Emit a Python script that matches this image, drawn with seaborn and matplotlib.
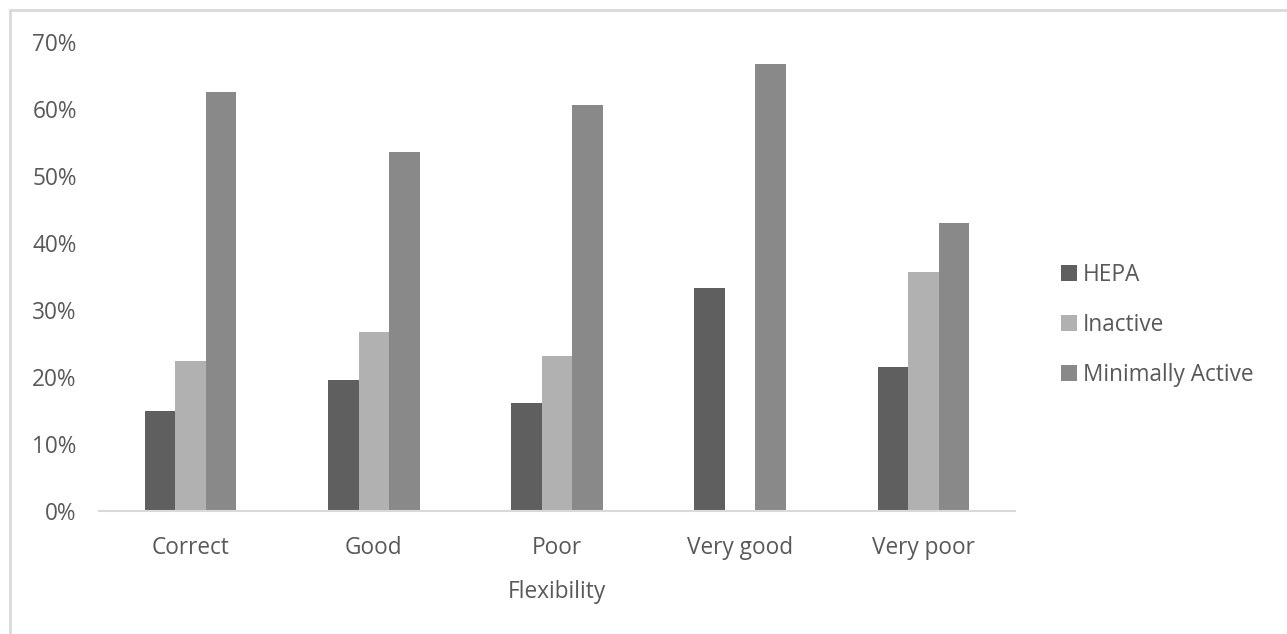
import matplotlib
matplotlib.use("Agg")
import matplotlib.pyplot as plt
from matplotlib.patches import Rectangle
from matplotlib.ticker import FuncFormatter
import seaborn as sns
import pandas as pd

# Share of each activity level within each flexibility rating
categories = ["Correct", "Good", "Poor", "Very good", "Very poor"]
series_names = ["HEPA", "Inactive", "Minimally Active"]
hepa = [0.149, 0.195, 0.160, 0.333, 0.214]
inactive = [0.223, 0.267, 0.231, 0.0, 0.357]
minimally_active = [0.625, 0.535, 0.606, 0.667, 0.429]
y_ticks = [0.0, 0.1, 0.2, 0.3, 0.4, 0.5, 0.6, 0.7]

colors = ["#5f5f5f", "#b1b1b1", "#898989"]
text_color = "#595959"
line_color = "#d9d9d9"

rows = []
for name, vals in zip(series_names, [hepa, inactive, minimally_active]):
    for cat, v in zip(categories, vals):
        rows.append({"Flexibility": cat, "Group": name, "Share": v})
df = pd.DataFrame(rows)

sns.set_theme(style="white")
plt.rcParams["font.family"] = ["Open Sans", "DejaVu Sans"]

fs = 16.3

fig = plt.figure(figsize=(12.87, 6.34), dpi=100)
ax = fig.add_axes([99 / 1287, 1 - 510.5 / 634, (1015 - 99) / 1287, (510.5 - 42) / 634])

sns.barplot(data=df, x="Flexibility", y="Share", hue="Group",
            order=categories, hue_order=series_names, palette=colors,
            width=0.5, linewidth=0, ax=ax, errorbar=None)

ax.set_ylim(0, 0.70)
ax.set_xlim(-0.5, len(categories) - 0.5)
ax.set_yticks(y_ticks)
ax.yaxis.set_major_formatter(FuncFormatter(lambda v, _: f"{v * 100:.0f}%"))
ax.tick_params(axis="y", length=0, pad=16, labelsize=fs, labelcolor=text_color)
ax.tick_params(axis="x", length=0, pad=18, labelsize=fs, labelcolor=text_color)
ax.set_ylabel("")
ax.set_xlabel("Flexibility", fontsize=fs, color=text_color, labelpad=15)

for side in ["top", "right", "left"]:
    ax.spines[side].set_visible(False)
ax.spines["bottom"].set_color(line_color)
ax.spines["bottom"].set_linewidth(1.5)

handles, labels = ax.get_legend_handles_labels()
ax.legend(handles, labels, loc="center left",
          bbox_to_anchor=(1052 / 1287, 1 - 325 / 634), bbox_transform=fig.transFigure,
          frameon=False, handlelength=0.7, handleheight=0.7, handletextpad=0.25,
          labelspacing=1.15, fontsize=fs, labelcolor=text_color, borderaxespad=0)

# Chart area border (continues past the right and bottom edges)
fig.patches.append(Rectangle((10 / 1287, -0.1), 1.2, 1 - 10 / 634 + 0.1,
                             transform=fig.transFigure, fill=False,
                             edgecolor=line_color, linewidth=2))

fig.savefig("out.png", dpi=100)
